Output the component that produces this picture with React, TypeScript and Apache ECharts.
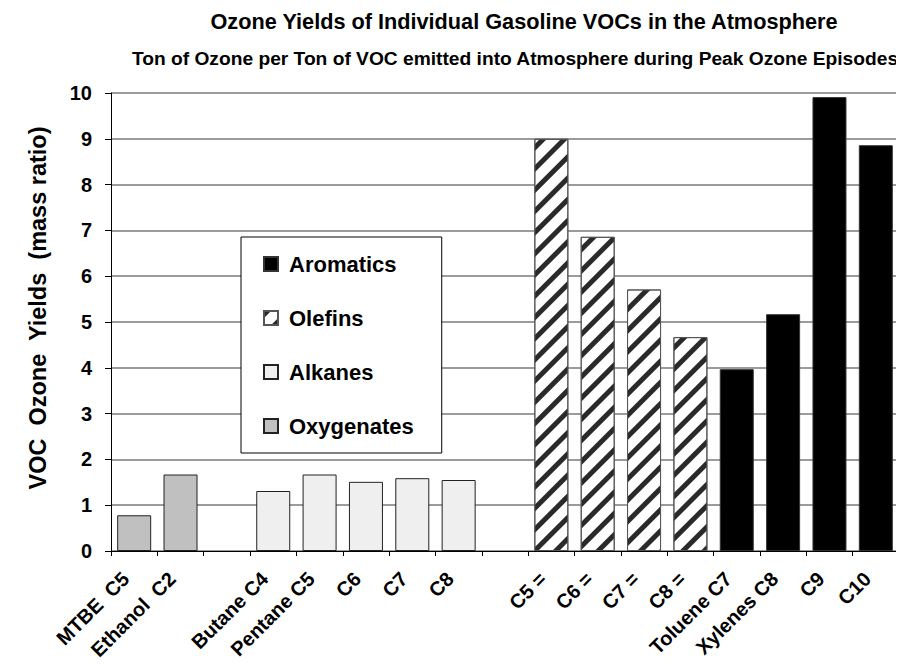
import React, { useEffect, useRef } from "react";
import * as echarts from "echarts";

const categories = [
  "MTBE  C5", "Ethanol  C2", "", "Butane C4", "Pentane C5", "C6", "C7", "C8", "",
  "C5 =", "C6 =", "C7 =", "C8 =", "Toluene C7", "Xylenes C8", "C9", "C10",
];
const oxygenates = [0.78, 1.67, null, null, null, null, null, null, null, null, null, null, null, null, null, null, null];
const alkanes = [null, null, null, 1.31, 1.67, 1.51, 1.59, 1.55, null, null, null, null, null, null, null, null, null];
const olefins = [null, null, null, null, null, null, null, null, null, 9.0, 6.86, 5.71, 4.67, null, null, null, null];
const aromatics = [null, null, null, null, null, null, null, null, null, null, null, null, null, 3.97, 5.17, 9.91, 8.86];
const yTicks = { min: 0, max: 10, interval: 1 };

const FONT = "Liberation Sans, Arial, sans-serif";

export default function App() {
  const ref = useRef<HTMLDivElement>(null);
  useEffect(() => {
    if (!ref.current) return;
    const chart = echarts.init(ref.current, null, { renderer: "svg" });
    const toData = (arr: (number | null)[]) => arr.map((v) => (v === null ? "-" : v));
    const common = {
      type: "bar",
      barWidth: 34,
      barGap: "-100%",
    };
    chart.setOption({
      animation: false,
      backgroundColor: "#fff",
      textStyle: { fontFamily: FONT },
      graphic: [
        {
          type: "text",
          x: 524,
          y: 21,
          style: {
            text: "Ozone Yields of Individual Gasoline VOCs in the Atmosphere",
            font: `bold 21.7px ${FONT}`,
            fill: "#000",
            textAlign: "center",
            textVerticalAlign: "middle",
          },
        },
        {
          type: "text",
          x: 515,
          y: 58,
          style: {
            text: "Ton of Ozone per Ton of VOC emitted into Atmosphere during Peak Ozone Episodes",
            font: `bold 19.2px ${FONT}`,
            fill: "#000",
            textAlign: "center",
            textVerticalAlign: "middle",
          },
        },
        {
          type: "text",
          x: 38,
          y: 308,
          rotation: Math.PI / 2,
          style: {
            text: "VOC  Ozone  Yields  (mass ratio)",
            font: `bold 23.5px ${FONT}`,
            fill: "#000",
            textAlign: "center",
            textVerticalAlign: "middle",
          },
        },
      ],
      legend: {
        data: ["Aromatics", "Olefins", "Alkanes", "Oxygenates"],
        orient: "vertical",
        left: 241,
        top: 237,
        padding: [16, 28, 16, 22],
        itemGap: 32,
        itemWidth: 14,
        itemHeight: 14,
        icon: "rect",
        borderColor: "#000",
        borderWidth: 1,
        backgroundColor: "#fff",
        textStyle: { fontFamily: FONT, fontWeight: "bold", fontSize: 22, color: "#000", padding: [0, 0, 0, 6] },
      },
      grid: { left: 111, right: 5, top: 93, bottom: 118, containLabel: false },
      xAxis: {
        type: "category",
        data: categories,
        boundaryGap: true,
        axisLine: { lineStyle: { color: "#000", width: 1 } },
        axisTick: { show: true, length: 5, alignWithLabel: false, interval: 0, lineStyle: { color: "#000" } },
        axisLabel: {
          interval: 0,
          rotate: 45,
          margin: 16,
          padding: [0, 12, 0, 0],
          fontFamily: FONT,
          fontWeight: "bold",
          fontSize: 20,
          color: "#000",
        },
      },
      yAxis: {
        type: "value",
        min: yTicks.min,
        max: yTicks.max,
        interval: yTicks.interval,
        axisLine: { show: true, lineStyle: { color: "#000", width: 1 } },
        axisTick: { show: true, length: 6, lineStyle: { color: "#000" } },
        axisLabel: { fontFamily: FONT, fontWeight: "bold", fontSize: 20, color: "#000", margin: 19 },
        splitLine: { show: true, lineStyle: { color: "#7a7a7a", width: 1.5 } },
      },
      series: [
        {
          ...common,
          name: "Aromatics",
          data: toData(aromatics),
          itemStyle: { color: "#000", borderColor: "#333", borderWidth: 1 },
        },
        {
          ...common,
          name: "Olefins",
          data: toData(olefins),
          itemStyle: {
            color: "#fff",
            borderColor: "#555",
            borderWidth: 1,
            decal: {
              symbol: "rect",
              symbolSize: 1,
              dashArrayX: [1, 0],
              dashArrayY: [5, 10],
              rotation: -Math.PI / 4,
              color: "#2a2a2a",
            },
          },
        },
        {
          ...common,
          name: "Alkanes",
          data: toData(alkanes),
          itemStyle: { color: "#efefef", borderColor: "#222", borderWidth: 1 },
        },
        {
          ...common,
          name: "Oxygenates",
          data: toData(oxygenates),
          itemStyle: { color: "#c0c0c0", borderColor: "#222", borderWidth: 1 },
        },
      ],
    });
    return () => chart.dispose();
  }, []);
  return <div ref={ref} style={{ width: 904, height: 669, margin: -8 }} />;
}
